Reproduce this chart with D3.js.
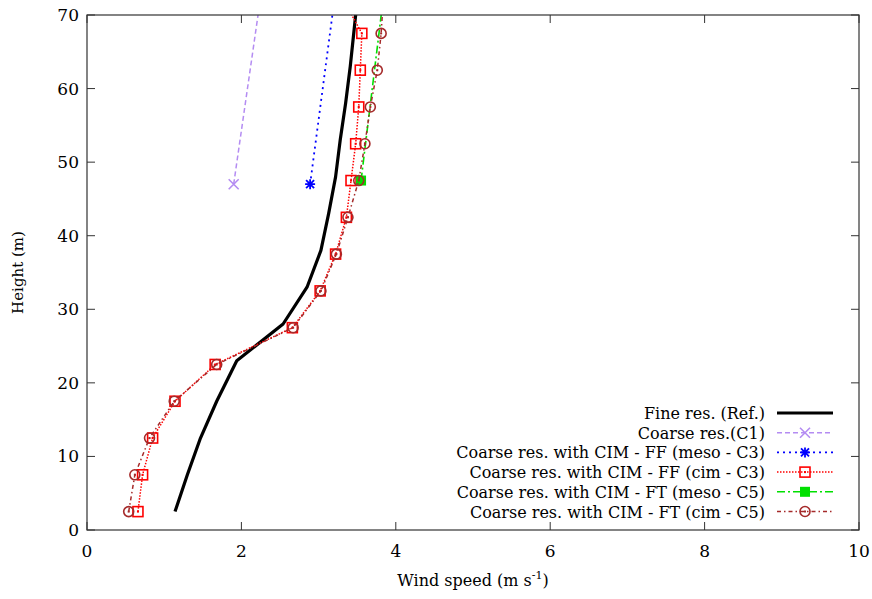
<!DOCTYPE html>
<html>
<head>
<meta charset="utf-8">
<script src="https://cdn.jsdelivr.net/npm/d3@7"></script>
<style>
  body { margin: 0; background: #fff; }
</style>
</head>
<body>
<div id="chart"></div>
<script>
// wind speed (m/s), height (m)
var fine_ref = [[1.14, 2.5], [1.30, 7.5], [1.47, 12.5], [1.68, 17.5], [1.94, 23], [2.54, 28], [2.85, 33], [3.03, 38], [3.13, 43], [3.22, 48], [3.28, 53], [3.35, 58], [3.41, 63], [3.46, 68], [3.50, 72]]
var coarse_c1 = [[1.90, 47], [2.25, 72.5]]
var ff_meso_c3 = [[2.89, 47], [3.21, 72.5]]
var ff_cim_c3 = [[0.66, 2.5], [0.72, 7.5], [0.85, 12.5], [1.14, 17.5], [1.66, 22.5], [2.66, 27.5], [3.02, 32.5], [3.22, 37.5], [3.36, 42.5], [3.42, 47.5], [3.48, 52.5], [3.52, 57.5], [3.54, 62.5], [3.56, 67.5], [3.30, 72.5]]
var ft_meso_c5 = [[3.55, 47.5], [3.84, 72.5]]
var ft_cim_c5 = [[0.54, 2.5], [0.62, 7.5], [0.81, 12.5], [1.13, 17.5], [1.68, 22.5], [2.67, 27.5], [3.03, 32.5], [3.23, 37.5], [3.38, 42.5], [3.52, 47.5], [3.60, 52.5], [3.67, 57.5], [3.76, 62.5], [3.81, 67.5], [3.84, 72.5]]

var labels = ['Fine res. (Ref.)', 'Coarse res.(C1)', 'Coarse res. with CIM - FF (meso - C3)', 'Coarse res. with CIM - FF (cim - C3)', 'Coarse res. with CIM - FT (meso - C5)', 'Coarse res. with CIM - FT (cim - C5)']
var xTicks = [0, 2, 4, 6, 8, 10]
var yTicks = [0, 10, 20, 30, 40, 50, 60, 70]

var series = [
    {data: fine_ref, color: '#000000', width: 3.2, dash: null, mark: null},
    {data: coarse_c1, color: '#b48cf2', width: 1.5, dash: '5,3', mark: 'x'},
    {data: ff_meso_c3, color: '#0000ff', width: 1.8, dash: '2,4', mark: 'star'},
    {data: ff_cim_c3, color: '#ff0000', width: 1.5, dash: '1.5,1.5', mark: 'square'},
    {data: ft_meso_c5, color: '#00e000', width: 1.6, dash: '8,3,2,3', mark: 'fsquare'},
    {data: ft_cim_c5, color: '#a52a2a', width: 1.5, dash: '4,3,1.5,3', mark: 'circle'}
]

var size = ({width: 872, height: 599})
var margin = ({top: 15, right: 13, bottom: 69, left: 87})
var font = 'DejaVu Serif'

var x = d3.scaleLinear().domain([0, 10]).range([margin.left, size.width - margin.right])
var y = d3.scaleLinear().domain([0, 70]).range([size.height - margin.bottom, margin.top])

const svg = d3.select('#chart')
    .append('svg')
    .attr('width', size.width)
    .attr('height', size.height)
    .attr('font-family', font)

svg.append('clipPath')
    .attr('id', 'clip')
    .append('rect')
    .attr('x', margin.left).attr('y', margin.top)
    .attr('width', x(10) - x(0)).attr('height', y(0) - y(70))

var frameColor = '#333'
var tickLen = 8

// ticks on all four sides (inward)
var axes = svg.append('g').attr('stroke', frameColor).attr('stroke-width', 1)
xTicks.forEach(t => {
    axes.append('line').attr('x1', x(t)).attr('x2', x(t)).attr('y1', y(0)).attr('y2', y(0) - tickLen)
    axes.append('line').attr('x1', x(t)).attr('x2', x(t)).attr('y1', y(70)).attr('y2', y(70) + tickLen)
})
yTicks.forEach(t => {
    axes.append('line').attr('x1', x(0)).attr('x2', x(0) + tickLen).attr('y1', y(t)).attr('y2', y(t))
    axes.append('line').attr('x1', x(10)).attr('x2', x(10) - tickLen).attr('y1', y(t)).attr('y2', y(t))
})

svg.append('g')
    .selectAll('text')
    .data(xTicks)
    .join('text')
    .attr('x', d => x(d))
    .attr('y', y(0) + 27)
    .attr('text-anchor', 'middle')
    .attr('font-size', 17)
    .text(d => d)

svg.append('g')
    .selectAll('text')
    .data(yTicks)
    .join('text')
    .attr('x', x(0) - 8)
    .attr('y', d => y(d) + 6)
    .attr('text-anchor', 'end')
    .attr('font-size', 17)
    .text(d => d)

var xlab = svg.append('text')
    .attr('x', (x(0) + x(10)) / 2)
    .attr('y', 586)
    .attr('text-anchor', 'middle')
    .attr('font-size', 16)
xlab.append('tspan').text('Wind speed (m s')
xlab.append('tspan').attr('font-size', 11).attr('dy', -7).text('-1')
xlab.append('tspan').attr('dy', 7).text(')')

svg.append('text')
    .attr('transform', `translate(23, ${(y(0) + y(70)) / 2}) rotate(-90)`)
    .attr('text-anchor', 'middle')
    .attr('font-size', 15)
    .text('Height (m)')

function drawMark(g, type, cx, cy, color) {
    if (type === 'x') {
        g.append('path').attr('d', `M${cx - 5},${cy - 5}L${cx + 5},${cy + 5}M${cx - 5},${cy + 5}L${cx + 5},${cy - 5}`)
            .attr('stroke', color).attr('stroke-width', 1.6).attr('fill', 'none')
    } else if (type === 'star') {
        g.append('path').attr('d', `M${cx - 5},${cy}L${cx + 5},${cy}M${cx},${cy - 5}L${cx},${cy + 5}M${cx - 4},${cy - 4}L${cx + 4},${cy + 4}M${cx - 4},${cy + 4}L${cx + 4},${cy - 4}`)
            .attr('stroke', color).attr('stroke-width', 1.8).attr('fill', 'none')
    } else if (type === 'square') {
        g.append('rect').attr('x', cx - 5).attr('y', cy - 5).attr('width', 10).attr('height', 10)
            .attr('stroke', color).attr('stroke-width', 1.6).attr('fill', 'none')
        g.append('rect').attr('x', cx - 1).attr('y', cy - 1).attr('width', 2).attr('height', 2).attr('fill', color)
    } else if (type === 'fsquare') {
        g.append('rect').attr('x', cx - 5).attr('y', cy - 5).attr('width', 10).attr('height', 10).attr('fill', color)
    } else if (type === 'circle') {
        g.append('circle').attr('cx', cx).attr('cy', cy).attr('r', 5)
            .attr('stroke', color).attr('stroke-width', 1.6).attr('fill', 'none')
        g.append('rect').attr('x', cx - 1).attr('y', cy - 1).attr('width', 2).attr('height', 2).attr('fill', color)
    }
}

var line = d3.line().x(d => x(d[0])).y(d => y(d[1]))
var plot = svg.append('g').attr('clip-path', 'url(#clip)')

series.forEach(s => {
    plot.append('path')
        .datum(s.data)
        .attr('fill', 'none')
        .attr('stroke', s.color)
        .attr('stroke-width', s.width)
        .attr('stroke-dasharray', s.dash)
        .attr('stroke-linejoin', 'round')
        .attr('d', line)
    if (s.mark) {
        s.data.forEach(d => drawMark(plot, s.mark, x(d[0]), y(d[1]), s.color))
    }
})

// legend
var legend = svg.append('g')
labels.forEach((lab, i) => {
    var ly = 413 + i * 19.7
    var s = series[i]
    legend.append('text')
        .attr('x', 765).attr('y', ly + 6)
        .attr('text-anchor', 'end')
        .attr('font-size', 16)
        .text(lab)
    legend.append('line')
        .attr('x1', 777).attr('x2', 833).attr('y1', ly).attr('y2', ly)
        .attr('stroke', s.color)
        .attr('stroke-width', s.width)
        .attr('stroke-dasharray', s.dash)
    if (s.mark) drawMark(legend, s.mark, 805, ly, s.color)
})

svg.append('rect')
    .attr('x', x(0)).attr('y', y(70))
    .attr('width', x(10) - x(0)).attr('height', y(0) - y(70))
    .attr('fill', 'none')
    .attr('stroke', frameColor)
    .attr('stroke-width', 1.2)
</script>
</body>
</html>
